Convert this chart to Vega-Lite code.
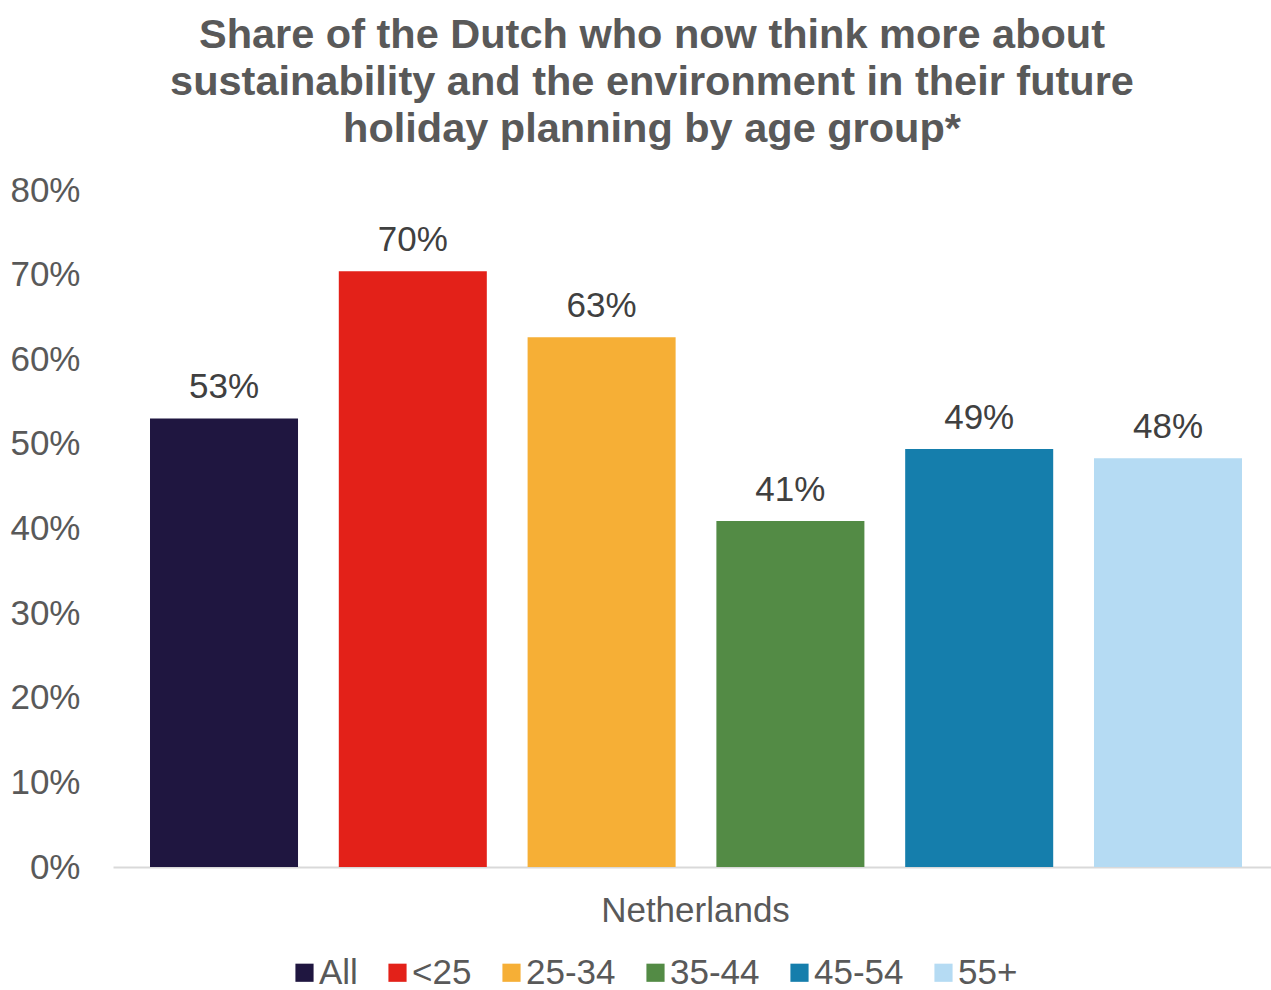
{
  "$schema": "https://vega.github.io/schema/vega-lite/v6.json",
  "width": 1158,
  "height": 677,
  "autosize": "none",
  "padding": {"left": 113, "top": 190, "right": 0, "bottom": 123},
  "background": "white",
  "config": {
    "font": "Liberation Sans",
    "view": {"stroke": null}
  },
  "title": {
    "text": ["Share of the Dutch who now think more about", "sustainability and the environment in their future", "holiday planning by age group*"],
    "fontSize": 41.5,
    "fontWeight": "bold",
    "color": "#595959",
    "lineHeight": 47,
    "anchor": "middle",
    "dx": -40,
    "offset": 23
  },
  "data": {
    "values": [
      {"group": "All", "value": 0.53},
      {"group": "<25", "value": 0.704},
      {"group": "25-34", "value": 0.626},
      {"group": "35-44", "value": 0.409},
      {"group": "45-54", "value": 0.494},
      {"group": "55+", "value": 0.483}
    ]
  },
  "encoding": {
    "x": {
      "field": "group",
      "type": "nominal",
      "sort": ["All", "<25", "25-34", "35-44", "45-54", "55+"],
      "scale": {"paddingInner": 0.216, "paddingOuter": 0.196, "range": [0, 1166]},
      "axis": {
        "labels": false,
        "ticks": false,
        "domainColor": "#D9D9D9",
        "domainWidth": 2,
        "title": "Netherlands",
        "titleFontSize": 35,
        "titleFontWeight": "normal",
        "titleColor": "#595959",
        "titlePadding": 26,
        "titleX": 582
      }
    },
    "y": {
      "field": "value",
      "type": "quantitative",
      "scale": {"domain": [0, 0.8]},
      "axis": {
        "values": [0, 0.1, 0.2, 0.3, 0.4, 0.5, 0.6, 0.7, 0.8],
        "format": ".0%",
        "labelFontSize": 35,
        "labelColor": "#595959",
        "labelPadding": 33,
        "domain": false,
        "ticks": false,
        "grid": false,
        "title": null
      }
    }
  },
  "layer": [
    {
      "mark": {"type": "bar"},
      "encoding": {
        "color": {
          "field": "group",
          "type": "nominal",
          "sort": ["All", "<25", "25-34", "35-44", "45-54", "55+"],
          "scale": {
            "domain": ["All", "<25", "25-34", "35-44", "45-54", "55+"],
            "range": ["#1F1640", "#E32119", "#F6AF36", "#538B45", "#157EAC", "#B5DBF3"]
          },
          "legend": {
            "title": null,
            "orient": "none",
            "legendX": 174,
            "legendY": 765,
            "direction": "horizontal",
            "columns": 6,
            "symbolType": "square",
            "symbolSize": 330,
            "symbolStrokeWidth": 0,
            "labelFontSize": 35,
            "labelColor": "#595959",
            "labelOffset": -3,
            "columnPadding": 22
          }
        }
      }
    },
    {
      "mark": {"type": "text", "baseline": "alphabetic", "dy": -20, "fontSize": 35, "color": "#404040"},
      "encoding": {
        "text": {"field": "value", "type": "quantitative", "format": ".0%"}
      }
    }
  ]
}
